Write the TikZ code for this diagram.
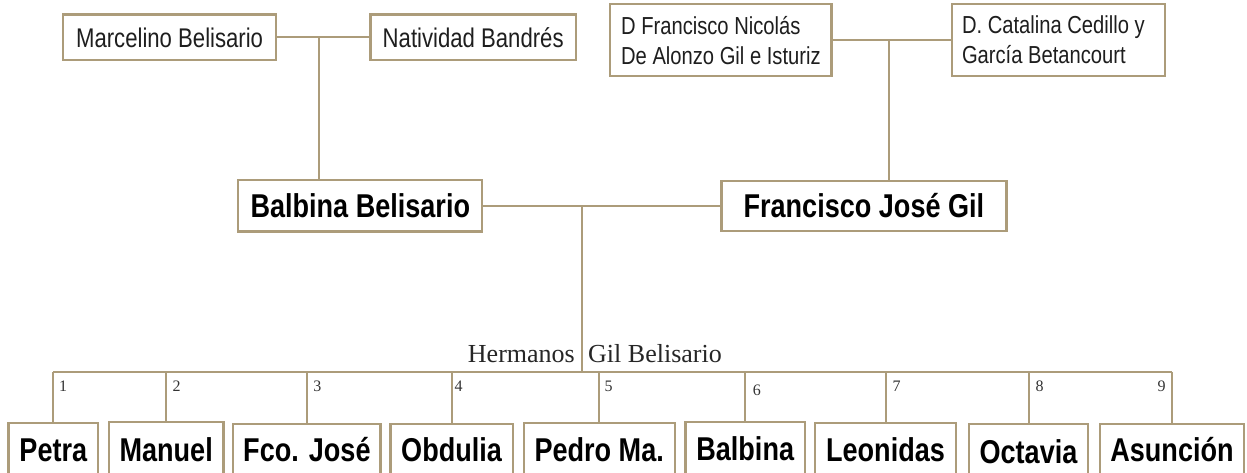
\documentclass[tikz,border=0pt]{standalone}
\usepackage{fontspec}
\newfontfamily\nsans[FakeStretch=0.82]{Liberation Sans}
\newfontfamily\tms{Liberation Serif}
\definecolor{tanline}{RGB}{172,156,122}
\definecolor{txtgrey}{RGB}{30,30,30}
\tikzset{
  box/.style={draw=tanline, line width=2.3pt, fill=white, inner sep=0pt, rectangle},
  elder/.style={box, font=\nsans\fontsize{27}{30}\selectfont, text=txtgrey},
  elder2/.style={box, font=\nsans\fontsize{24.6}{30}\selectfont, text=txtgrey, align=left},
  parent/.style={box, font=\nsans\bfseries\fontsize{33}{36}\selectfont, text=black, text height=23.6pt, text depth=0pt},
  kid/.style={box, font=\nsans\bfseries\fontsize{33}{36}\selectfont, text=black, text height=23.6pt, text depth=0pt},
  conn/.style={draw=tanline, line width=2pt},
  num/.style={font=\tms\fontsize{16}{18}\selectfont, text=black!80, inner sep=0pt, anchor=base},
  title/.style={font=\tms\fontsize{26}{28}\selectfont, text=black!85, inner sep=0pt}
}
\begin{document}
\begin{tikzpicture}[x=1pt,y=-1pt]
\useasboundingbox (0,0) rectangle (1247,473);
\clip (0,0) rectangle (1247,473);
\fill[white] (0,0) rectangle (1247,473);

% grandparents
\node[elder, minimum width=212.7pt, minimum height=45.8pt] (marc) at (169.6,37.4) {Marcelino Belisario};
\node[elder, minimum width=205.5pt, minimum height=45.8pt] (nat) at (473.2,37.4) {Natividad Bandrés};
\node[elder2, minimum width=221.2pt, minimum height=72.3pt] (dfn) at (720.9,40.2) {D Francisco Nicolás\\De Alonzo Gil e Isturiz};
\node[elder2, inner xsep=10pt, text width=193pt, align=flush left, minimum height=72.3pt] (cat) at (1058.5,40.2) {D. Catalina Cedillo y\\García Betancourt};

% parents
\node[parent, minimum width=244pt, minimum height=51.3pt] (bb) at (360.3,205.7) {Balbina Belisario};
\node[parent, minimum width=285.1pt, minimum height=50pt] (fjg) at (863.9,205.7) {Francisco José Gil};

% children
\node[kid, minimum width=89.5pt, minimum height=52.4pt] (k1) at (53.3,449.5) {Petra};
\node[kid, minimum width=114.3pt, minimum height=54.4pt] (k2) at (166.2,449.5) {Manuel};
\node[kid, minimum width=147.4pt, minimum height=51pt] (k3) at (306.9,449.5) {Fco. José};
\node[kid, minimum width=122.1pt, minimum height=51pt] (k4) at (451.6,449.5) {Obdulia};
\node[kid, minimum width=151pt, minimum height=53.6pt] (k5) at (599.2,449.5) {Pedro Ma.};
\node[kid, minimum width=119.6pt, minimum height=54.6pt] (k6) at (745.2,449) {Balbina};
\node[kid, minimum width=141pt, minimum height=53.4pt] (k7) at (885.5,450) {Leonidas};
\node[kid, minimum width=119pt, minimum height=55.4pt] (k8) at (1028.5,451.7) {Octavia};
\node[kid, minimum width=144pt, minimum height=52pt] (k9) at (1172,450) {Asunción};

% junctions
\coordinate (j1) at (319,37.4);
\coordinate (j2) at (888.8,40.2);
\coordinate (j3) at (582.3,205.7);
\coordinate (bar) at (582.3,372);

% connectors
\draw[conn] (marc.east) -- (nat.west);
\draw[conn] (j1) -- (j1 |- bb.north);
\draw[conn] (dfn.east) -- (cat.west);
\draw[conn] (j2) -- (j2 |- fjg.north);
\draw[conn] (bb.east) -- (fjg.west);
\draw[conn] (j3) -- (bar);
\draw[conn] (k1.north |- bar) -- (k9.north |- bar);
\foreach \k in {k1,k2,k3,k4,k5,k6,k7,k8,k9}
  \draw[conn] (\k.north |- bar) -- (\k.north);

% title
\node[title, anchor=base east] (tl) at (575,362) {Hermanos};
\node[title, anchor=base west] (tr) at (588,362) {Gil Belisario};

% numbers
\node[num] (n1) at (63,391.5) {1};
\node[num] (n2) at (176.7,391.5) {2};
\node[num] (n3) at (317.4,391.5) {3};
\node[num] (n4) at (458.5,391.5) {4};
\node[num] (n5) at (608.7,391.5) {5};
\node[num] (n6) at (756.8,395.5) {6};
\node[num] (n7) at (896.7,391.5) {7};
\node[num] (n8) at (1039.5,391.5) {8};
\node[num] (n9) at (1161.7,391.5) {9};
\end{tikzpicture}
\end{document}
